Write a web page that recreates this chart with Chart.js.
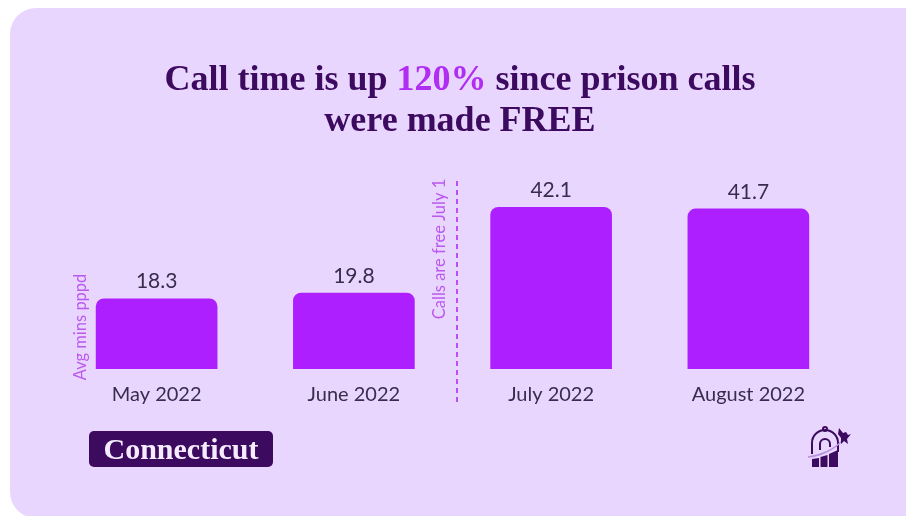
<!DOCTYPE html>
<html>
<head>
<meta charset="utf-8">
<title>Call time</title>
<script src="https://cdn.jsdelivr.net/npm/chart.js@4"></script>
<style>
    html, body { margin: 0; padding: 0; background: #fff; overflow: hidden; }
    #page { position: relative; width: 906px; height: 516px; overflow: hidden; }
    #card {
        position: absolute; left: 10px; top: 8px; width: 930px; height: 510px;
        background: #e8d6ff; border-radius: 26px;
    }
    #chart { position: absolute; left: 0; top: 0; }
    .heading {
        position: absolute; left: 0; width: 920px; text-align: center; white-space: nowrap;
        font: bold 36px "Liberation Serif", serif; color: #3c0a5e; line-height: 40px;
    }
    .heading span { color: #b02df2; }
    #state {
        position: absolute; left: 89px; top: 431px; width: 184px; height: 36px; border-radius: 5px;
        background: #3c0a5e; color: #f6ecff; text-align: center;
        font: bold 30px/35px "Liberation Serif", serif;
    }
    #logo { position: absolute; left: 806px; top: 424px; }
</style>
</head>
<body>
<div id="page">
    <div id="card"></div>
    <canvas id="chart" width="906" height="516"></canvas>
    <div class="heading" style="top:58px">Call time is up <span>120%</span> since prison calls</div>
    <div class="heading" style="top:99px">were made FREE</div>
    <div id="state">Connecticut</div>
    <svg id="logo" width="46" height="46" viewBox="0 0 46 46">
        <g fill="none" stroke="#3c0a5e" stroke-width="2">
            <path d="M6 30V19a13 13 0 0 1 26 0v9"/>
            <path d="M14 26v-6a5 5 0 0 1 10 0v3"/>
            <circle cx="19" cy="5" r="2"/>
        </g>
        <path d="M6 43V35l7-1v9zM14.500 43V33l7-2v12zM23 43V30l9-4v17z" fill="#3c0a5e"/>
        <path d="M2 33C14 32 28 26 38 15" fill="none" stroke="#b98fe0" stroke-width="1.500"/>
        <path d="M33 4l4 5 3-1 2 3 3-1-4 5 1 5-4-3-3 3 0-6-3-4z" fill="#3c0a5e"/>
    </svg>
</div>
<script>
const months = ['May 2022', 'June 2022', 'July 2022', 'August 2022'];
const avgMinutes = [18.3, 19.8, 42.1, 41.7];

// value labels, the dashed July 1 divider and the two rotated notes
const annotations = {
    id: 'annotations',
    afterDatasetsDraw(chart) {
        const ctx = chart.ctx;
        const x = chart.scales.x;
        const bars = chart.getDatasetMeta(0).data;

        ctx.save();
        ctx.fillStyle = '#3a2c4c';
        ctx.font = '21px Lato';
        ctx.textAlign = 'center';
        ctx.textBaseline = 'middle';
        bars.forEach(function (bar, i) {
            ctx.fillText(avgMinutes[i].toFixed(1), bar.x, bar.y - 17);
        });

        const dividerX = x.getPixelForValue(1.5) + 4.5;
        ctx.strokeStyle = '#b94ff0';
        ctx.lineWidth = 2;
        ctx.setLineDash([5, 4]);
        ctx.beginPath();
        ctx.moveTo(dividerX, 181);
        ctx.lineTo(dividerX, 402);
        ctx.stroke();
        ctx.setLineDash([]);

        ctx.fillStyle = '#bb58f0';
        ctx.font = '16.5px Lato';
        rotatedText(ctx, 'Avg mins pppd', 81, 327);
        rotatedText(ctx, 'Calls are free July 1', dividerX - 17, 249);
        ctx.restore();
    }
};

function rotatedText(ctx, text, x, y) {
    ctx.save();
    ctx.translate(x, y);
    ctx.rotate(-Math.PI / 2);
    ctx.fillText(text, 0, 0);
    ctx.restore();
}

new Chart(document.getElementById('chart'), {
    type: 'bar',
    data: {
        labels: months,
        datasets: [{
            data: avgMinutes,
            backgroundColor: '#ae1fff',
            barThickness: 121,
            borderRadius: { topLeft: 8, topRight: 8 }
        }]
    },
    options: {
        responsive: false,
        animation: false,
        layout: { padding: { left: 58, right: 59, top: 177, bottom: 0 } },
        plugins: {
            legend: { display: false },
            tooltip: { enabled: false }
        },
        scales: {
            x: {
                grid: { display: false },
                border: { display: false },
                afterFit: function (scale) { scale.height = 147; },
                ticks: {
                    color: '#3a2c4c',
                    font: { family: 'Lato', size: 20 },
                    padding: 6,
                    maxRotation: 0
                }
            },
            y: { display: false, min: 0, max: 50 }
        }
    },
    plugins: [annotations]
});
</script>
</body>
</html>
